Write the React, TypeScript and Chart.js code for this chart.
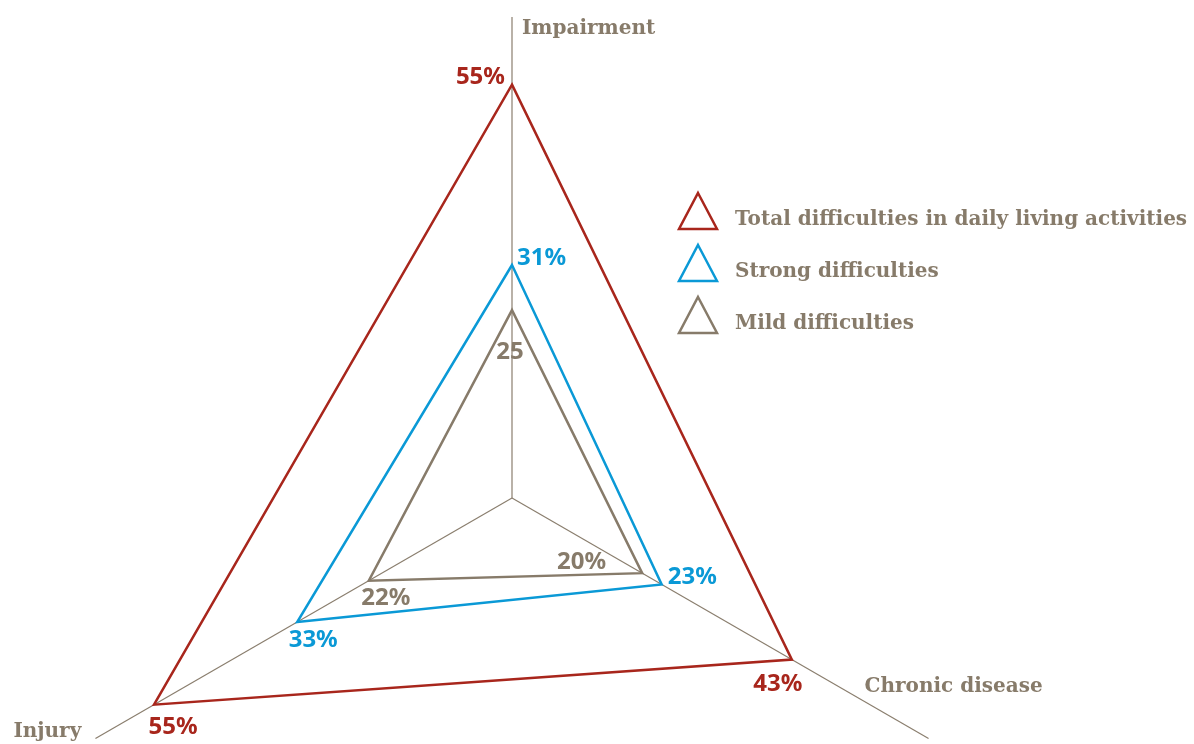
import React, { useEffect, useRef } from "react";
import { Chart, registerables } from "chart.js";

Chart.register(...registerables);

const categories = ["Impairment", "Chronic disease", "Injury"];
const totalValues = [55, 43, 55];
const strongValues = [31, 23, 33];
const mildValues = [25, 20, 22];
const totalLabels = ["55%", "43%", "55%"];
const strongLabels = ["31%", "23%", "33%"];
const mildLabels = ["25", "20%", "22%"];
const seriesNames = [
  "Total difficulties in daily living activities",
  "Strong difficulties",
  "Mild difficulties",
];
const scaleMax = 64;

const RED = "#a8261c";
const BLUE = "#0a99d6";
const GREY = "#877b6a";
const AXIS = "#8a7e6e";
const SLAB = "'DejaVu Serif', serif";
const SANS = "'Noto Sans', sans-serif";

// label placement relative to the vertex: [dx, dy, align]
const totalOffsets: [number, number, CanvasTextAlign][] = [
  [-7, -7, "right"],
  [-14, 25, "center"],
  [19, 22, "center"],
];
const strongOffsets: [number, number, CanvasTextAlign][] = [
  [5, -7, "left"],
  [6, -7, "left"],
  [16, 18, "center"],
];
const mildOffsets: [number, number, CanvasTextAlign][] = [
  [-2, 42, "center"],
  [-36, -11, "right"],
  [17, 17, "center"],
];
const categoryOffsets: [number, number, CanvasTextAlign][] = [
  [10, 12, "left"],
  [-64, -52, "left"],
  [-82, -7, "left"],
];

const labelPlugin = {
  id: "customLabels",
  afterDraw(chart: any) {
    const ctx = chart.ctx as CanvasRenderingContext2D;
    const scale = chart.scales.r;
    ctx.save();
    ctx.textBaseline = "middle";

    // category labels at axis ends
    ctx.font = `bold 20px ${SLAB}`;
    ctx.fillStyle = GREY;
    categories.forEach((c, i) => {
      const p = scale.getPointPosition(i, scale.getDistanceFromCenterForValue(scaleMax));
      const [dx, dy, al] = categoryOffsets[i];
      ctx.textAlign = al;
      ctx.fillText(c, p.x + dx, p.y + dy);
    });

    // value labels
    const groups: [number[], string[], [number, number, CanvasTextAlign][], string][] = [
      [totalValues, totalLabels, totalOffsets, RED],
      [strongValues, strongLabels, strongOffsets, BLUE],
      [mildValues, mildLabels, mildOffsets, GREY],
    ];
    ctx.font = `bold 24px ${SANS}`;
    groups.forEach(([vals, labs, offs, col]) => {
      ctx.fillStyle = col;
      vals.forEach((v, i) => {
        const p = scale.getPointPosition(i, scale.getDistanceFromCenterForValue(v));
        const [dx, dy, al] = offs[i];
        ctx.textAlign = al;
        ctx.fillText(labs[i], p.x + dx, p.y + dy);
      });
    });

    // legend
    const colors = [RED, BLUE, GREY];
    ctx.font = `bold 20px ${SLAB}`;
    ctx.textAlign = "left";
    seriesNames.forEach((name, i) => {
      const tx = 679;
      const ty = 193 + i * 52;
      ctx.beginPath();
      ctx.moveTo(tx + 19, ty);
      ctx.lineTo(tx + 38, ty + 36);
      ctx.lineTo(tx, ty + 36);
      ctx.closePath();
      ctx.lineWidth = 2.5;
      ctx.strokeStyle = colors[i];
      ctx.stroke();
      ctx.fillStyle = GREY;
      ctx.fillText(name, 735, ty + 27);
    });
    ctx.restore();
  },
};

export default function App() {
  const ref = useRef<HTMLCanvasElement>(null);
  useEffect(() => {
    if (!ref.current) return;
    const chart = new Chart(ref.current, {
      type: "radar",
      data: {
        labels: categories,
        datasets: [
          { label: seriesNames[0], data: totalValues, borderColor: RED, borderWidth: 2.5, fill: false, pointRadius: 0 },
          { label: seriesNames[1], data: strongValues, borderColor: BLUE, borderWidth: 2.5, fill: false, pointRadius: 0 },
          { label: seriesNames[2], data: mildValues, borderColor: GREY, borderWidth: 2.5, fill: false, pointRadius: 0 },
        ],
      },
      options: {
        responsive: false,
        animation: false,
        layout: { padding: { left: 31, right: 201, top: 17, bottom: 11 } },
        plugins: { legend: { display: false }, tooltip: { enabled: false } },
        elements: { line: { tension: 0, borderJoinStyle: "miter" } },
        scales: {
          r: {
            min: 0,
            max: scaleMax,
            ticks: { display: false },
            grid: { display: false },
            angleLines: { display: true, color: AXIS, lineWidth: 1.2 },
            pointLabels: { display: false },
          },
        },
      },
      plugins: [labelPlugin],
    });
    return () => chart.destroy();
  }, []);
  return (
    <div style={{ position: "fixed", left: 0, top: 0, width: 1194, height: 744, overflow: "hidden", background: "#fff" }}>
      <canvas ref={ref} width={1194} height={990} style={{ width: 1194, height: 990, display: "block" }} />
    </div>
  );
}
